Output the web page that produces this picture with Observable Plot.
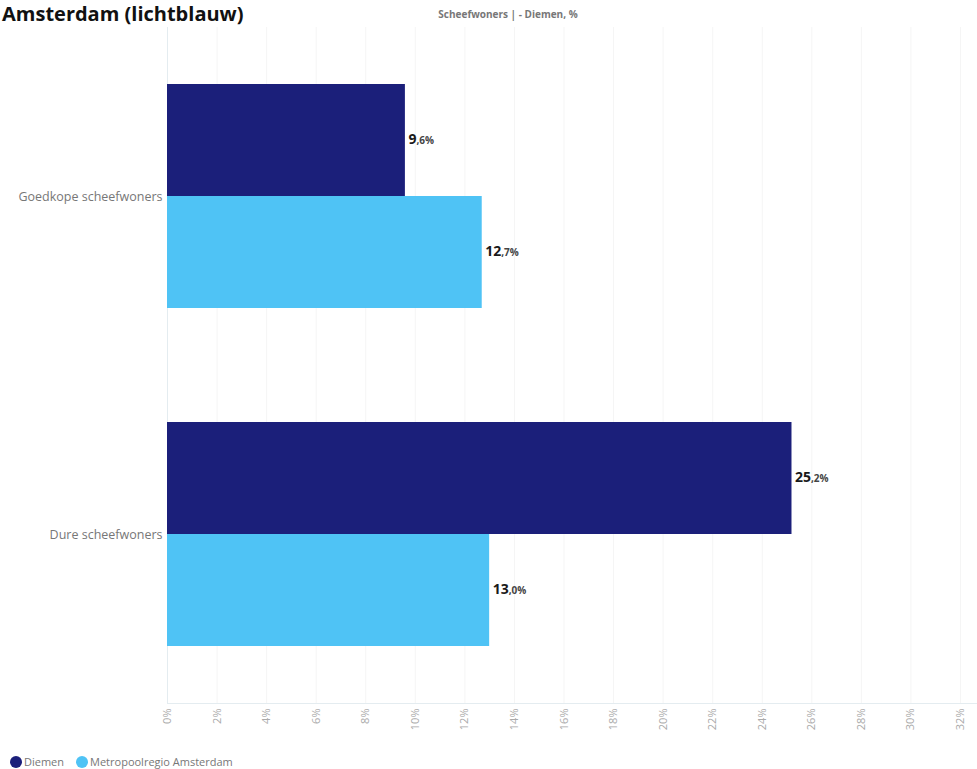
<!DOCTYPE html>
<html>
<head>
<meta charset="utf-8">
<script src="https://cdn.jsdelivr.net/npm/d3@7"></script>
<script src="https://cdn.jsdelivr.net/npm/@observablehq/plot@0.6"></script>
<style>
  html, body { margin: 0; padding: 0; background: #fff; }
  body { width: 977px; height: 769px; position: relative; overflow: hidden; font-family: "Open Sans", sans-serif; }
  #title { position: absolute; left: 2px; top: 0px; font-size: 20px; font-weight: 700; color: #111; white-space: nowrap; line-height: normal; }
  #subtitle { position: absolute; left: 0; width: 1016px; top: 7px; text-align: center; font-size: 10px; font-weight: 700; color: #777; }
  #chart { position: absolute; left: 0; top: 0; }
  #legend { position: absolute; left: 10px; top: 754px; font-size: 11px; color: #777; display: flex; gap: 12px; align-items: center; }
  #legend span.item { display: flex; align-items: center; gap: 2px; }
  #legend span.sw { width: 12px; height: 12px; border-radius: 50%; display: inline-block; }
</style>
</head>
<body>
<div id="chart"></div>
<div id="title">Amsterdam (lichtblauw)</div>
<div id="subtitle">Scheefwoners | - Diemen, %</div>
<div id="legend"></div>
<script>
const categories = ["Goedkope scheefwoners", "Dure scheefwoners"];
const seriesNames = ["Diemen", "Metropoolregio Amsterdam"];
const seriesColors = ["#1b1f7a", "#4fc3f5"];
const diemenValues = [9.6, 25.2];
const metroValues = [12.7, 13.0];
const xTicks = [0, 2, 4, 6, 8, 10, 12, 14, 16, 18, 20, 22, 24, 26, 28, 30, 32];

const data = [];
categories.forEach((c, i) => {
  data.push({cat: c, series: seriesNames[0], value: diemenValues[i]});
  data.push({cat: c, series: seriesNames[1], value: metroValues[i]});
});

const fmt = v => v.toFixed(1).replace(".", ",") + "%";

const plot = Plot.plot({
  width: 977,
  height: 740,
  marginLeft: 167,
  marginRight: 17,
  marginTop: 26,
  marginBottom: 37,
  style: {fontFamily: "'Open Sans', sans-serif", background: "transparent"},
  x: {domain: [0, 32], ticks: xTicks, axis: null},
  y: {domain: seriesNames, paddingInner: 0, paddingOuter: 0.5, axis: null},
  fy: {domain: categories, padding: 0, axis: null},
  color: {domain: seriesNames, range: seriesColors},
  marks: [
    Plot.gridX(xTicks, {stroke: "#f5f5f5", strokeOpacity: 1}),
    Plot.ruleX([0], {stroke: "#e4ecf0"}),
    Plot.axisX(xTicks, {anchor: "bottom", tickSize: 0, tickPadding: 5, tickRotate: -90, textAnchor: "end", fontSize: 11, fill: "#aaa", tickFormat: d => d + "%", label: null}),
    Plot.axisFy({anchor: "left", tickSize: 0, tickPadding: 5, fontSize: 12.5, fill: "#777", label: null}),
    Plot.barX(data, {x: "value", y: "series", fy: "cat", fill: "series"}),
    Plot.text(data, {x: "value", y: "series", fy: "cat", text: d => fmt(d.value), dx: 3, textAnchor: "start", fontWeight: 700, fill: "#1a1a1a"})
  ]
});

document.getElementById("chart").appendChild(plot);

// split value labels into a large integer part and smaller decimal part
d3.select(plot).selectAll('g[aria-label="text"] text').each(function() {
  const t = d3.select(this);
  const s = t.text();
  const idx = s.indexOf(",");
  if (idx < 0) return;
  t.text(null);
  t.append("tspan").style("font-size", "14px").text(s.slice(0, idx));
  t.append("tspan").style("font-size", "10px").attr("fill", "#444").text(s.slice(idx));
});

// bottom border of the plot area
const xs = plot.scale("x");
d3.select(plot).append("line")
  .attr("x1", xs.range[0]).attr("x2", 977)
  .attr("y1", 740 - 37 + 0.5).attr("y2", 740 - 37 + 0.5)
  .attr("stroke", "#e4ecf0");

// legend
const legend = d3.select("#legend");
seriesNames.forEach((n, i) => {
  const item = legend.append("span").attr("class", "item");
  item.append("span").attr("class", "sw").style("background", seriesColors[i]);
  item.append("span").text(n);
});
</script>
</body>
</html>
